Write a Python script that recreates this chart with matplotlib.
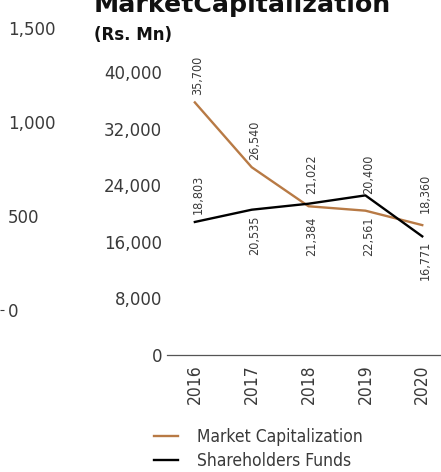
import matplotlib
matplotlib.use("Agg")
import matplotlib.pyplot as plt
from matplotlib.ticker import FixedLocator

# Datos
years = ['2016', '2017', '2018', '2019', '2020']
market_cap = [35700, 26540, 21022, 20400, 18360]
sh_funds = [18803, 20535, 21384, 22561, 16771]
y_ticks = [0, 8000, 16000, 24000, 32000, 40000]
ghost_ticks = [0, 500, 1000, 1500]

# desplazamientos de etiquetas (px): positivo arriba, negativo abajo
mc_off = [7, 7, 12, 17, 12]
sf_off = [8, -6, -13, -21, -4]

txt = '#3a3a3a'
brown = '#b87a45'
narrow = dict(family='DejaVu Sans', stretch='condensed')

fig = plt.figure(figsize=(4.41, 4.72), dpi=100)

# eje fantasma a la izquierda (resto de otro grafico)
ax0 = fig.add_axes([0, (472 - 310) / 472, 0.001, (310 - 28) / 472])
ax0.set_ylim(0, 1500)
ax0.set_yticks(ghost_ticks)
ax0.set_yticklabels([f'{v:,}' for v in ghost_ticks])
ax0.yaxis.remove_overlapping_locs = False
ax0.yaxis.set_minor_locator(FixedLocator([0]))
ax0.tick_params(axis='y', which='major', left=False, right=False, labelleft=False,
                labelright=True, pad=2, labelsize=12, labelcolor=txt)
ax0.tick_params(axis='y', which='minor', left=False, right=True, length=3,
                color=txt, width=0.8)
ax0.set_xticks([])
for s in ax0.spines.values():
    s.set_visible(False)
ax0.patch.set_visible(False)

# grafico principal
ax = fig.add_axes([167 / 441, (472 - 355) / 472, 1 - 167 / 441, (355 - 72) / 472])
x = range(len(years))
ax.plot(x, market_cap, color=brown, lw=1.7, label='Market Capitalization')
ax.plot(x, sh_funds, color='black', lw=1.7, label='Shareholders Funds')

ax.set_xlim(-0.49, 4.33)
ax.set_ylim(0, 40000)
ax.set_yticks(y_ticks)
ax.set_yticklabels([f'{v:,}' for v in y_ticks])
ax.set_xticks(list(x))
ax.set_xticklabels(years, rotation=90, fontsize=12.5, **narrow)
ax.tick_params(axis='y', length=0, pad=3.5, labelsize=12, labelcolor=txt)
ax.tick_params(axis='x', length=0, pad=6.5, labelcolor=txt)
for k in ['top', 'right', 'left']:
    ax.spines[k].set_visible(False)
ax.spines['bottom'].set_color('#555555')
ax.spines['bottom'].set_linewidth(0.9)
ax.patch.set_visible(False)

for i in x:
    ax.annotate(f'{market_cap[i]:,}', (i, market_cap[i]), xytext=(3, mc_off[i]),
                textcoords='offset pixels', rotation=90, ha='center',
                va='bottom' if mc_off[i] > 0 else 'top', fontsize=9,
                color=txt, **narrow)
    ax.annotate(f'{sh_funds[i]:,}', (i, sh_funds[i]), xytext=(3, sf_off[i]),
                textcoords='offset pixels', rotation=90, ha='center',
                va='bottom' if sf_off[i] > 0 else 'top', fontsize=9,
                color=txt, **narrow)

fig.text(94 / 441, 1 - 12 / 472, 'MarketCapitalization', fontsize=18.2,
         fontweight='bold', color='#111111', va='baseline')
fig.text(94 / 441, 1 - 40 / 472, '(Rs. Mn)', fontsize=12,
         fontweight='bold', color='#111111', va='baseline')

ax.legend(loc='upper left', bbox_to_anchor=(154 / 441, 1 - 428 / 472),
          bbox_transform=fig.transFigure, frameon=False, borderpad=0,
          borderaxespad=0, handlelength=1.38, handletextpad=1.1,
          labelspacing=0.36, prop=dict(size=12.5, **narrow),
          labelcolor=txt)

fig.savefig('out.png', dpi=100)
